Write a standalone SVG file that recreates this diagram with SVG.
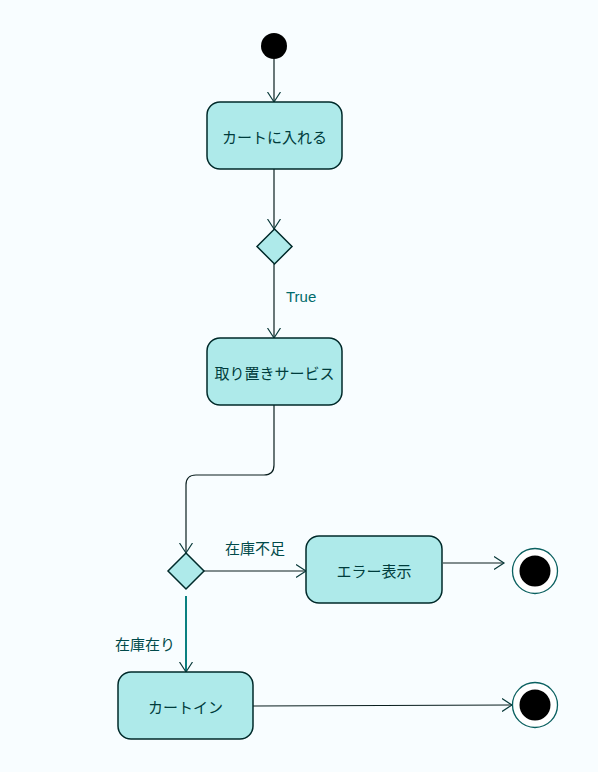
<svg xmlns="http://www.w3.org/2000/svg" width="598" height="772" viewBox="0 0 598 772">
<defs>
<style>
.node rect{fill:#aeeaea;stroke:#002a2a;stroke-width:1.5}
.node text{font-family:"Noto Sans CJK JP","Liberation Sans",sans-serif;font-size:15px;fill:#003c3c;text-anchor:middle;dominant-baseline:central}
.dec polygon{fill:#aeeaea;stroke:#002a2a;stroke-width:1.5}
.edge{fill:none;stroke:#0a1f1f;stroke-width:1.2;marker-end:url(#arr)}
.lbl{font-family:"Noto Sans CJK JP","Liberation Sans",sans-serif;font-size:15px;fill:#004a4a;dominant-baseline:central}
</style>
<marker id="arr" markerWidth="12" markerHeight="14" refX="10" refY="7" orient="auto" markerUnits="userSpaceOnUse">
<path d="M0,0.5 L10,7 L0,13.5" fill="none" stroke="#0a3a3a" stroke-width="1.2"/>
</marker>
</defs>
<rect width="598" height="772" fill="#f8fdff"/>
<g id="connectors">
<path class="edge" d="M274,59 V102"/>
<path class="edge" d="M274,169 V229"/>
<path class="edge" d="M274,264 V338"/>
<path class="edge" d="M274,405 V465 Q274,475 264,475 H196 Q186,475 186,485 V553"/>
<path class="edge" d="M204,571 H306"/>
<path class="edge" d="M443,563 H504"/>
<path class="edge" d="M186,596 V672" style="stroke:#0a8080;stroke-width:2"/>
<path class="edge" d="M253,706 L512,705"/>
<text class="lbl" x="286" y="296" style="fill:#006b6b;font-family:'Liberation Sans',sans-serif">True</text>
<text class="lbl" x="225" y="547">在庫不足</text>
<text class="lbl" x="115" y="643">在庫在り</text>
</g>
<g id="start"><circle cx="274" cy="46" r="13" fill="#000"/></g>
<g id="cart" class="node"><rect x="207" y="102" width="135" height="67" rx="13"/><text x="274.5" y="136">カートに入れる</text></g>
<g id="d1" class="dec"><polygon points="274.5,229 292,246.5 274.5,264 257,246.5"/></g>
<g id="reserve" class="node"><rect x="207" y="338" width="135" height="67" rx="13"/><text x="274.5" y="372">取り置きサービス</text></g>
<g id="d2" class="dec"><polygon points="186,553 204,571 186,589 168,571"/></g>
<g id="error" class="node"><rect x="306" y="536" width="136" height="67" rx="13"/><text x="374" y="570">エラー表示</text></g>
<g id="cartin" class="node"><rect x="118" y="672" width="135" height="67" rx="13"/><text x="185.5" y="706">カートイン</text></g>
<g id="end1"><circle cx="535" cy="571" r="22.5" fill="#fff" stroke="#0a6060" stroke-width="1.3"/><circle cx="535" cy="571" r="15.5" fill="#000"/></g>
<g id="end2"><circle cx="535" cy="705" r="22.5" fill="#fff" stroke="#0a6060" stroke-width="1.3"/><circle cx="535" cy="705" r="15.5" fill="#000"/></g>
</svg>
